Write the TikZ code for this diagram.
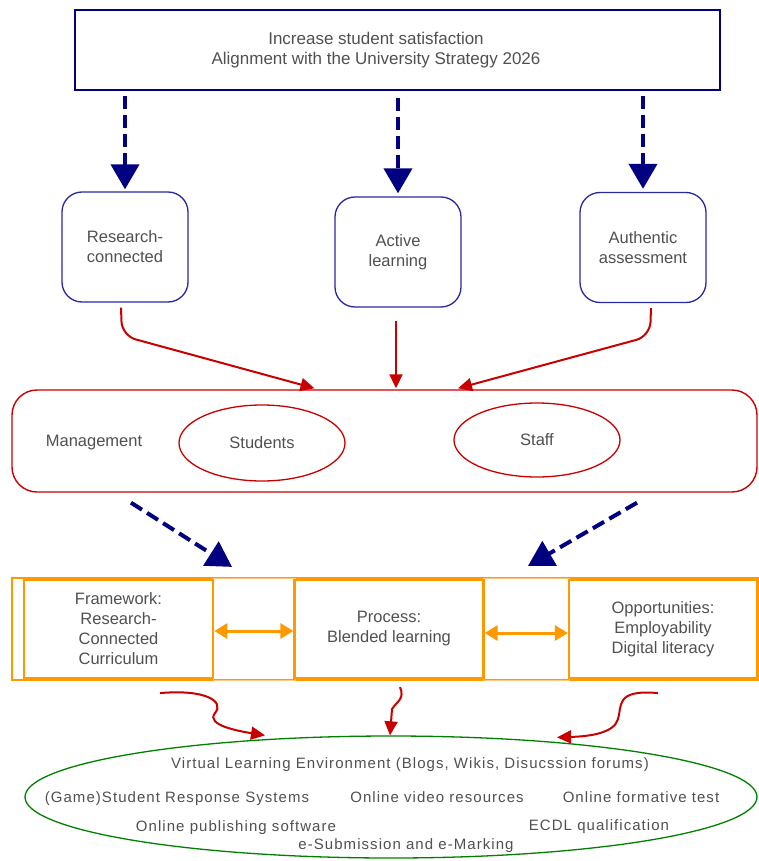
\documentclass[tikz,border=0pt]{standalone}
\usepackage{xcolor}
\usepackage{fontspec}
\setmainfont{Liberation Sans}
\newfontfamily\vlefont[LetterSpace=7]{Liberation Sans}
\usetikzlibrary{arrows.meta,shapes.geometric}

\definecolor{navyline}{RGB}{0,0,128}
\definecolor{boxblue}{RGB}{40,40,160}
\definecolor{hubred}{RGB}{200,0,0}
\definecolor{bandorange}{RGB}{255,153,0}
\definecolor{linkorange}{RGB}{255,200,120}
\definecolor{vlegreen}{RGB}{0,128,0}
\definecolor{textgray}{RGB}{80,80,80}

\begin{document}
\begin{tikzpicture}[x=1pt,y=-1pt,
  every node/.style={text=textgray,font=\fontsize{16.5}{20}\selectfont,align=center},
  goalbox/.style={draw=navyline,line width=1.5,minimum width=645,minimum height=80},
  aimbox/.style={draw=boxblue,line width=1.3,rounded corners=20,minimum width=126,minimum height=110},
  hubbox/.style={draw=hubred,line width=1.4,rounded corners=25,minimum width=745,minimum height=102},
  groupell/.style={draw=hubred,line width=1.3,ellipse,minimum width=166,minimum height=76},
  bandbox/.style={draw=bandorange,line width=2.2,minimum height=98,minimum width=189},
  linkbox/.style={draw=linkorange,line width=1,minimum height=102},
  vleell/.style={draw=vlegreen,line width=1.3,ellipse,minimum width=732,minimum height=122},
  vletext/.style={font=\vlefont\fontsize{15}{18}\selectfont},
  navyarrow/.style={draw=navyline,line width=4,dash pattern=on 13 off 6,
    -{Triangle[length=25,width=28]}},
  redarrow/.style={draw=hubred,line width=2,-{Triangle[length=14,width=13]}},
  orangearrow/.style={draw=bandorange,line width=3,
    {Triangle[length=13,width=15]}-{Triangle[length=13,width=15]}}]
\useasboundingbox (0,0) rectangle (759,861);

%Shape: Rectangle
\node [goalbox] (goal) at (397.5,50) {};
% Text Node
\node [font=\fontsize{17}{20}\selectfont] (goaltext) at (376,50) {Increase student satisfaction\\Alignment with the University Strategy 2026};

%Shape: Rounded Rectangle
\node [aimbox] (research) at (125,247) {Research-\\connected};
%Shape: Rounded Rectangle
\node [aimbox] (active) at (398,252) {Active\\learning};
%Shape: Rounded Rectangle
\node [aimbox] (authentic) at (643,247.5) {Authentic\\assessment};

%Shape: Rounded Rectangle
\node [hubbox] (hub) at (384.5,441) {};
% Text Node
\node (mgmt) at (94,443) {Management};
%Shape: Ellipse
\node [groupell] (students) at (262,443) {Students};
%Shape: Ellipse
\node [groupell,minimum height=74] (staff) at (537,440) {Staff};

%Shape: Rectangle
\node [draw=bandorange,line width=2.2,minimum width=747,minimum height=102] (band) at (385.5,629) {};
%Shape: Rectangle
\node [linkbox,minimum width=82] (link1) at (254,629) {};
%Shape: Rectangle
\node [linkbox,minimum width=86] (link2) at (526,629) {};
%Shape: Rectangle
\node [bandbox,line width=2.6] (framework) at (118.5,629) {Framework:\\Research-\\Connected\\Curriculum};
%Shape: Rectangle
\node [bandbox] (process) at (389,629) {Process:\\Blended learning};
%Shape: Rectangle
\node [bandbox,minimum width=188] (opportunities) at (663,629) {Opportunities:\\Employability\\Digital literacy};

%Shape: Ellipse
\node [vleell] (vle) at (391,797) {};
% Text Node
\node [vletext] (vletitle) at (410,765) {Virtual Learning Environment (Blogs, Wikis, Disucssion forums)};
% Text Node
\node [vletext] (response) at (177,799) {(Game)Student Response Systems};
% Text Node
\node [vletext] (video) at (437,797) {Online video resources};
% Text Node
\node [vletext] (formative) at (641,797) {Online formative test};
% Text Node
\node [vletext] (publishing) at (236,828) {Online publishing software};
% Text Node
\node [vletext] (ecdl) at (599,827) {ECDL qualification};
% Text Node
\node [vletext] (marking) at (406,846) {e-Submission and e-Marking};

%Straight Lines
\draw [navyarrow,shorten <=5,shorten >=2] (research.north |- goal.south) -- (research.north);
\draw [navyarrow,shorten <=7,shorten >=3] (active.north |- goal.south) -- (active.north);
\draw [navyarrow,shorten <=5,shorten >=3] (authentic.north |- goal.south) -- (authentic.north);

%Curve Lines
\draw [redarrow,rounded corners=14] ([xshift=-4,yshift=-5]research.south) -- ++(1,28) -- ([xshift=-70,yshift=1]hub.north);
\draw [redarrow] ([xshift=-2,yshift=-13]active.south) -- ([xshift=-2,yshift=1]active.south |- hub.north);
\draw [redarrow,rounded corners=14] ([xshift=8,yshift=-5]authentic.south) -- ++(-1,28) -- ([xshift=73.5,yshift=1]hub.north);

%Straight Lines
\draw [navyarrow] ([xshift=-253.5,yshift=-10]hub.south) -- ([xshift=-153.5,yshift=10]band.north);
\draw [navyarrow] ([xshift=252.5,yshift=-10]hub.south) -- ([xshift=142.5,yshift=11]band.north);

%Straight Lines
\draw [orangearrow] ([yshift=-2]framework.east) -- ([yshift=-2]process.west);
\draw [orangearrow] ([yshift=-4]process.east) -- ([yshift=-4]opportunities.west);

%Curve Lines
\draw [redarrow] ([xshift=-225.5,yshift=-12]band.south) .. controls +(45,-4) and +(10,-12) .. ++(55,20)
  .. controls +(-10,12) and +(-25,-4) .. ([xshift=-126]vle.north);
\draw [redarrow] ([xshift=14.5,yshift=-6]band.south) .. controls +(5,12) and +(5,-8) .. ++(-8,22)
  -- ([xshift=-1]vle.north);
\draw [redarrow] ([xshift=272.5,yshift=-12]band.south) .. controls +(-43,-4) and +(4,-13) .. ++(-40,26)
  .. controls +(-4,14) and +(33,-1) .. ([xshift=166,yshift=-2]vle.north);

\end{tikzpicture}
\end{document}
